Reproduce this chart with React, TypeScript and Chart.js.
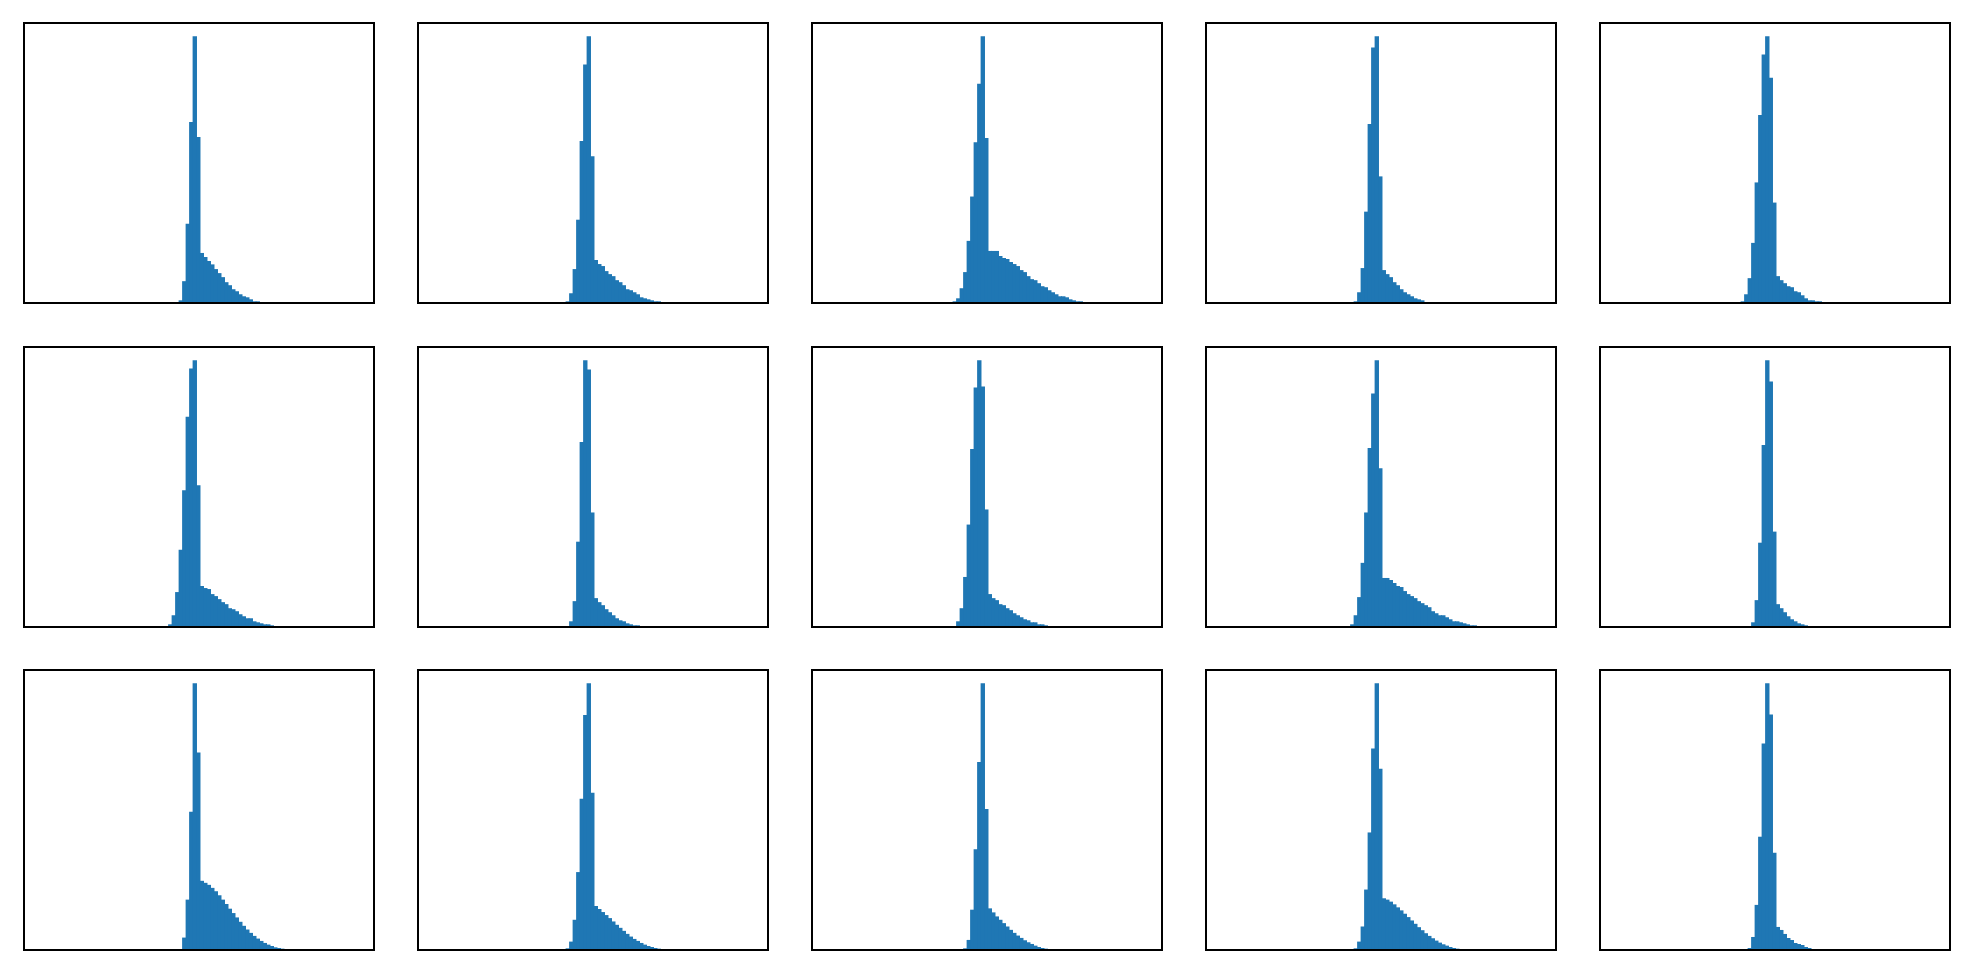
import React, { useEffect, useRef } from "react";
import { Chart, registerables } from "chart.js";

Chart.register(...registerables);

// ---- data: histogram counts (relative), first bin index of each panel ----
const BIN_COUNT = 100;
const BIN_OFFSET = -0.3;

const startsRow1 = [44, 42, 40, 42, 40];
const startsRow2 = [41, 43, 40, 41, 43];
const startsRow3 = [45, 42, 43, 42, 42];

const countsA = [8, 65, 236, 539, 794, 494, 149, 137, 125, 115, 101, 89, 77, 62, 53, 41, 35, 26, 20, 17, 11, 5, 5, 2];
const countsB = [5, 29, 101, 248, 482, 710, 794, 437, 128, 116, 110, 95, 86, 80, 68, 62, 53, 41, 38, 32, 26, 17, 14, 11, 8, 5, 5, 2, 2];
const countsC = [5, 14, 44, 92, 185, 317, 479, 653, 794, 491, 155, 155, 155, 140, 134, 131, 122, 116, 110, 98, 92, 80, 71, 68, 59, 50, 47, 38, 32, 26, 20, 20, 17, 11, 8, 5, 5, 2, 2];
const countsD = [5, 32, 104, 272, 533, 761, 794, 377, 98, 86, 77, 62, 53, 41, 32, 26, 20, 14, 11, 8, 2, 2, 2];
const countsE = [5, 26, 74, 179, 359, 560, 740, 794, 671, 299, 80, 68, 59, 50, 47, 35, 32, 23, 14, 8, 8, 5, 5, 2, 2, 2, 2];

const countsF = [8, 35, 104, 230, 407, 626, 770, 794, 422, 122, 116, 113, 98, 92, 83, 74, 68, 56, 53, 47, 38, 32, 26, 26, 17, 14, 11, 8, 8, 5, 2, 2, 2];
const countsG = [17, 77, 254, 551, 794, 767, 341, 86, 74, 65, 53, 44, 35, 26, 20, 17, 11, 8, 5, 5, 2];
const countsH = [2, 17, 56, 149, 305, 530, 713, 794, 716, 350, 98, 86, 80, 68, 65, 56, 50, 41, 35, 29, 23, 20, 14, 14, 8, 8, 5, 2, 2];
const countsI = [8, 35, 89, 191, 341, 533, 695, 794, 473, 146, 146, 140, 131, 122, 119, 107, 98, 92, 86, 77, 71, 65, 59, 47, 41, 35, 35, 29, 23, 17, 17, 14, 11, 8, 5, 5, 2, 2];
const countsJ = [14, 80, 251, 542, 794, 731, 284, 68, 56, 44, 32, 23, 17, 11, 8, 5, 2];

const countsK = [37, 150, 412, 794, 588, 206, 200, 194, 185, 175, 163, 150, 137, 123, 110, 97, 84, 72, 61, 51, 42, 34, 27, 21, 16, 12, 8, 6, 4, 2];
const countsL = [5, 25, 90, 232, 450, 700, 794, 468, 131, 122, 113, 104, 95, 85, 75, 66, 57, 48, 40, 33, 27, 21, 16, 12, 9, 6, 4, 2];
const countsM = [5, 30, 120, 300, 560, 794, 420, 124, 112, 100, 90, 80, 70, 60, 51, 43, 36, 29, 23, 18, 13, 9, 6, 4, 2];
const countsN = [5, 25, 70, 180, 350, 600, 794, 540, 154, 150, 144, 136, 127, 118, 108, 98, 88, 78, 68, 59, 50, 42, 35, 28, 22, 17, 13, 9, 6, 4, 3, 2];
const countsO = [6, 39, 135, 339, 618, 798, 705, 291, 69, 60, 48, 36, 30, 21, 18, 15, 9, 6, 3, 3];

const panelCounts = [
  [countsA, countsB, countsC, countsD, countsE],
  [countsF, countsG, countsH, countsI, countsJ],
  [countsK, countsL, countsM, countsN, countsO],
];
const panelStarts = [startsRow1, startsRow2, startsRow3];

// ---- layout ----
const COL_LEFT = [24, 418, 812, 1206, 1600];
const ROW_TOP = [23, 347, 670];
const PANEL_W = 350;
const PANEL_H = 280;
const PAD = 2;
const BAR_COLOR = "#1f77b4";

const framePlugin = {
  id: "frameBox",
  afterDraw(chart: any) {
    const { ctx, chartArea: a } = chart;
    ctx.save();
    ctx.strokeStyle = "#000000";
    ctx.lineWidth = 2;
    ctx.strokeRect(a.left, a.top, a.right - a.left, a.bottom - a.top);
    ctx.restore();
  },
};

function Panel({ start, counts, left, top }: { start: number; counts: number[]; left: number; top: number }) {
  const ref = useRef<HTMLCanvasElement | null>(null);
  useEffect(() => {
    const canvas = ref.current;
    if (!canvas) return;
    const peak = Math.max(...counts);
    const chart = new Chart(canvas, {
      type: "bar",
      data: {
        datasets: [
          {
            data: counts.map((c, i) => ({ x: start + i + 0.5, y: c })),
            backgroundColor: BAR_COLOR,
            borderWidth: 0,
            categoryPercentage: 1,
            barPercentage: 1.25,
          } as any,
        ],
      },
      options: {
        responsive: false,
        animation: false,
        layout: { padding: PAD },
        plugins: { legend: { display: false }, tooltip: { enabled: false } },
        scales: {
          x: {
            type: "linear",
            min: BIN_OFFSET,
            max: BIN_OFFSET + BIN_COUNT,
            offset: false,
            display: false,
            ticks: { includeBounds: false, stepSize: 50 },
            grid: { display: false },
          },
          y: {
            type: "linear",
            min: 0,
            max: peak * 1.05,
            display: false,
            grid: { display: false },
          },
        },
      } as any,
      plugins: [framePlugin],
    });
    return () => chart.destroy();
  }, [start, counts]);
  return (
    <canvas
      ref={ref}
      width={PANEL_W + 2 * PAD}
      height={PANEL_H + 2 * PAD}
      style={{ position: "absolute", left: left - PAD, top: top - PAD, width: PANEL_W + 2 * PAD, height: PANEL_H + 2 * PAD }}
    />
  );
}

export default function App() {
  return (
    <div style={{ position: "fixed", left: 0, top: 0, width: 1972, height: 973, background: "#ffffff" }}>
      {panelCounts.map((row, r) =>
        row.map((counts, c) => (
          <Panel key={`${r}-${c}`} start={panelStarts[r][c]} counts={counts} left={COL_LEFT[c]} top={ROW_TOP[r]} />
        ))
      )}
    </div>
  );
}
